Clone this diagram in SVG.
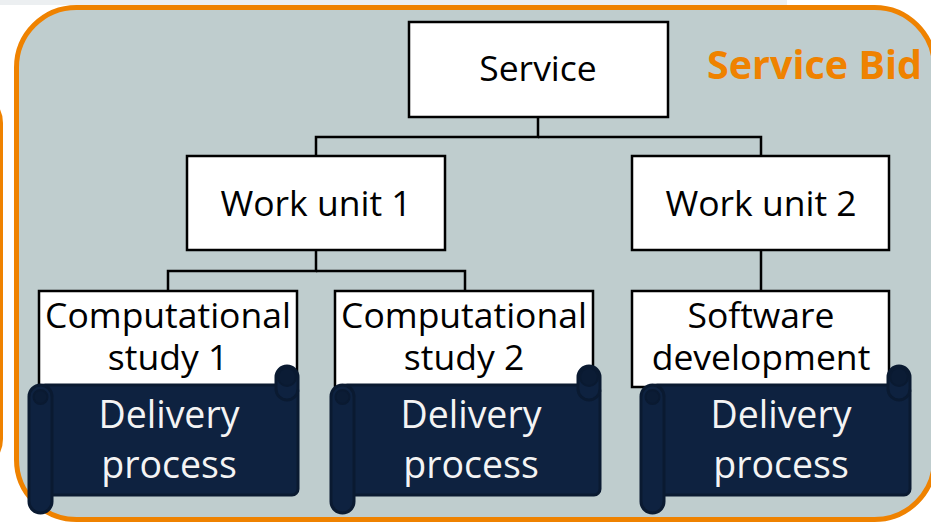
<svg xmlns="http://www.w3.org/2000/svg" width="931" height="522" viewBox="0 0 931 522">
<defs>
<style>
.box{fill:#ffffff;stroke:#000000;stroke-width:2.5}
.lbl{font-family:"Open Sans","Liberation Sans",sans-serif;font-size:35.5px;fill:#000000;text-anchor:middle}
.dlbl{font-family:"Open Sans","Liberation Sans",sans-serif;font-size:37.5px;fill:#f4f4f4;text-anchor:middle}
.scr{fill:#0e2240;stroke:#0a1a31;stroke-width:3}
.curl{fill:#0b1c35;stroke:#0a1a31;stroke-width:2}
.conn{fill:none;stroke:#000000;stroke-width:2.5}
</style>
<g id="scrollshape">
<rect class="scr" x="10" y="20" width="259" height="110" rx="6"/>
<rect class="scr" x="247" y="1" width="22" height="34" rx="11"/>
<rect class="curl" x="249" y="3" width="18" height="18" rx="9"/>
<rect class="scr" x="0" y="20" width="23" height="128" rx="11.5"/>
<circle class="curl" cx="11.5" cy="32" r="7"/>
</g>
</defs>
<rect x="0" y="0" width="931" height="522" fill="#ffffff"/>
<rect x="0" y="0" width="787" height="5" fill="#eceff1"/>
<rect x="-100" y="93" width="101.5" height="376" rx="30" fill="none" stroke="#ef8200" stroke-width="3"/>
<g id="service-bid">
<rect x="16.5" y="7.5" width="918" height="512" rx="60" fill="#bfcdce" stroke="#ef8200" stroke-width="5"/>
<text x="707" y="79" font-family="'Open Sans','Liberation Sans',sans-serif" font-size="40" font-weight="bold" fill="#ef8200" textLength="215" lengthAdjust="spacingAndGlyphs">Service Bid</text>
</g>
<g id="connectors">
<polyline class="conn" points="538,117 538,137 316,137 316,156"/>
<polyline class="conn" points="538,137 761,137 761,156"/>
<polyline class="conn" points="316,250 316,271 168,271 168,291"/>
<polyline class="conn" points="316,271 465,271 465,291"/>
<polyline class="conn" points="761,250 761,291"/>
</g>
<g id="service">
<rect class="box" x="409" y="22" width="259" height="95"/>
<text class="lbl" x="538" y="81">Service</text>
</g>
<g id="work-unit-1">
<rect class="box" x="187" y="156" width="258" height="94"/>
<text class="lbl" x="316" y="216">Work unit 1</text>
</g>
<g id="work-unit-2">
<rect class="box" x="632" y="156" width="257" height="94"/>
<text class="lbl" x="761" y="216">Work unit 2</text>
</g>
<g id="comp-study-1">
<rect class="box" x="39" y="291" width="258" height="96"/>
<text class="lbl" x="168" y="328">Computational</text>
<text class="lbl" x="168" y="370">study 1</text>
</g>
<g id="comp-study-2">
<rect class="box" x="335" y="291" width="258" height="96"/>
<text class="lbl" x="464" y="328">Computational</text>
<text class="lbl" x="464" y="370">study 2</text>
</g>
<g id="software-dev">
<rect class="box" x="632" y="291" width="257" height="96"/>
<text class="lbl" x="761" y="328">Software</text>
<text class="lbl" x="761" y="370">development</text>
</g>
<g id="delivery-1">
<use href="#scrollshape" x="29" y="365"/>
<text class="dlbl" x="169" y="428">Delivery</text>
<text class="dlbl" x="169" y="478">process</text>
</g>
<g id="delivery-2">
<use href="#scrollshape" x="331" y="365"/>
<text class="dlbl" x="471" y="428">Delivery</text>
<text class="dlbl" x="471" y="478">process</text>
</g>
<g id="delivery-3">
<use href="#scrollshape" x="641" y="365"/>
<text class="dlbl" x="781" y="428">Delivery</text>
<text class="dlbl" x="781" y="478">process</text>
</g>
</svg>
